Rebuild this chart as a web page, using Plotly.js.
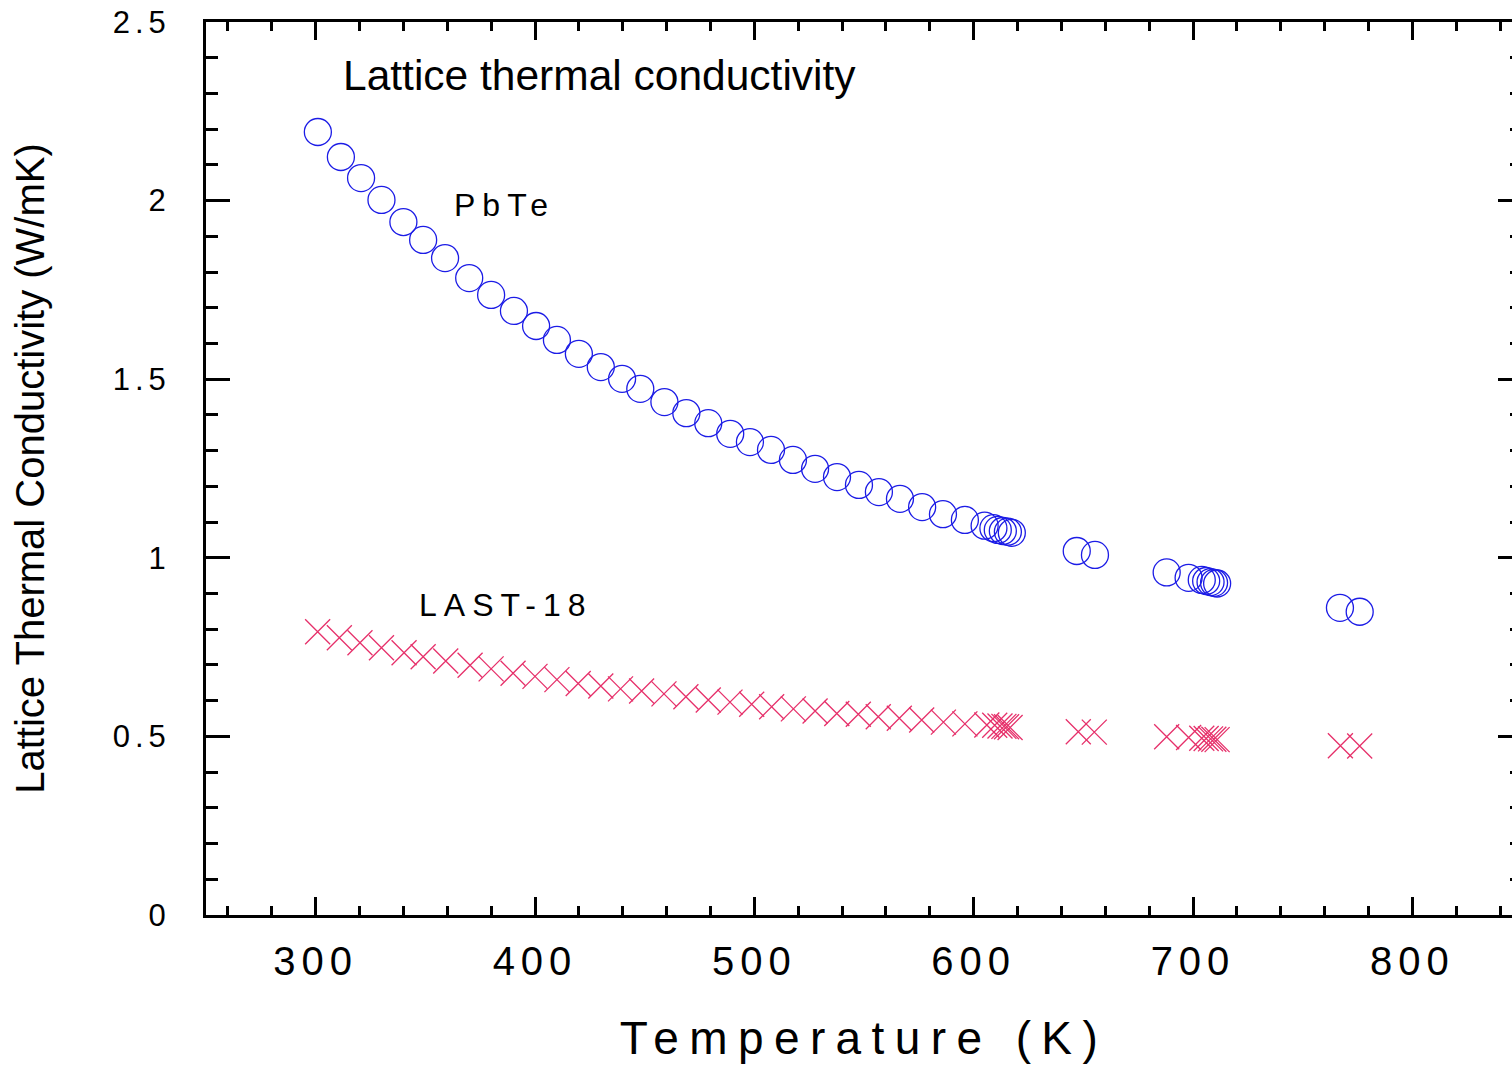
<!DOCTYPE html>
<html>
<head>
<meta charset="utf-8">
<script src="https://cdn.plot.ly/plotly-3.0.1.min.js"></script>
<style>
  html, body { margin: 0; padding: 0; overflow: hidden; background: #fff; }
  #chart { width: 1540px; height: 1070px; }
  .xtick text { letter-spacing: 6px; }
  .ytick text { letter-spacing: 5px; }
  text.xtitle { letter-spacing: 10.4px; }
  .annotation-text { letter-spacing: 7px; }
</style>
</head>
<body>
<div id="chart"></div>
<script>
// PbTe (open circles)
const tempPbTe = [301, 311.5, 320.7, 330, 340, 349, 359, 370, 380, 390.4, 400.5, 410, 420, 430, 439.7, 448, 459, 469, 479, 489, 498, 507.6, 517.6, 527.7, 537.7, 547.7, 556.8, 566.4, 576.5, 586, 596, 605, 609, 611, 613.3, 615.6, 617.4, 647, 655.3, 688, 698, 704, 706, 708, 709.6, 711, 767, 776];
const kPbTe = [2.192, 2.122, 2.063, 2.002, 1.940, 1.890, 1.839, 1.783, 1.736, 1.691, 1.649, 1.610, 1.571, 1.534, 1.501, 1.473, 1.436, 1.405, 1.377, 1.347, 1.324, 1.302, 1.274, 1.249, 1.226, 1.204, 1.184, 1.165, 1.142, 1.122, 1.106, 1.090, 1.083, 1.078, 1.075, 1.073, 1.070, 1.019, 1.008, 0.959, 0.944, 0.938, 0.935, 0.932, 0.930, 0.928, 0.860, 0.849];

// LAST-18 (crosses)
const tempLAST = [300.9, 310.8, 320.2, 330, 340.3, 349, 359.3, 370.4, 380, 390, 400, 410, 419.7, 430, 439, 448.6, 458.8, 468.8, 479, 488.9, 498.8, 507.9, 517.8, 527.7, 537.6, 547.4, 556.5, 566.1, 576.3, 586.2, 596, 606, 609.6, 612, 613.8, 615, 616.6, 647.7, 655, 688, 698, 704, 706, 708, 709.5, 711, 767.2, 776];
const kLAST = [0.793, 0.776, 0.762, 0.748, 0.734, 0.723, 0.711, 0.699, 0.689, 0.677, 0.668, 0.659, 0.648, 0.641, 0.633, 0.627, 0.619, 0.611, 0.602, 0.596, 0.590, 0.583, 0.577, 0.571, 0.564, 0.562, 0.555, 0.551, 0.546, 0.540, 0.535, 0.532, 0.531, 0.529, 0.528, 0.527, 0.525, 0.513, 0.512, 0.499, 0.497, 0.495, 0.494, 0.493, 0.492, 0.491, 0.474, 0.473];

const xTickVals = [300, 400, 500, 600, 700, 800];
const xTickText = ['300', '400', '500', '600', '700', '800'];
const yTickVals = [0, 0.5, 1, 1.5, 2, 2.5];
const yTickText = ['0', '0.5', '1', '1.5', '2', '2.5'];

const FONT = '"Liberation Sans", Arial, Helvetica, sans-serif';

const traces = [
  {
    x: tempPbTe, y: kPbTe, type: 'scatter', mode: 'markers', name: 'PbTe',
    marker: { symbol: 'circle-open', size: 27, color: '#1c1ce6', line: { width: 1.3, color: '#1c1ce6' } },
    hoverinfo: 'x+y'
  },
  {
    x: tempLAST, y: kLAST, type: 'scatter', mode: 'markers', name: 'LAST-18',
    marker: { symbol: 'x-thin-open', size: 25, color: '#e6306a', line: { width: 1.3, color: '#e6306a' } },
    hoverinfo: 'x+y'
  }
];

const layout = {
  width: 1540, height: 1070,
  margin: { l: 206, r: 18, t: 22, b: 155 },
  paper_bgcolor: '#fff', plot_bgcolor: '#fff',
  showlegend: false,
  font: { family: FONT, color: '#000' },
  title: {
    text: 'Lattice thermal conductivity',
    font: { family: FONT, size: 42.5, color: '#000' },
    x: 343 / 1540, xanchor: 'left', xref: 'container',
    y: 1 - 75 / 1070, yanchor: 'middle', yref: 'container'
  },
  xaxis: {
    range: [250, 850],
    tickmode: 'array', tickvals: xTickVals, ticktext: xTickText,
    ticks: 'inside', ticklen: 18, tickwidth: 3, tickcolor: '#000',
    minor: { dtick: 20, tick0: 0, ticks: 'inside', ticklen: 9, tickwidth: 2.5, tickcolor: '#000', showgrid: false },
    showline: true, linewidth: 3, linecolor: '#000', mirror: 'allticks',
    showgrid: false, zeroline: false,
    tickfont: { family: FONT, size: 40, color: '#000' },
    ticklabelstandoff: 9,
    title: { text: 'Temperature (K)', font: { family: FONT, size: 46, color: '#000' }, standoff: 40 },
    automargin: false, fixedrange: true
  },
  yaxis: {
    range: [0, 2.5],
    tickmode: 'array', tickvals: yTickVals, ticktext: yTickText,
    ticks: 'inside', ticklen: 24, tickwidth: 3, tickcolor: '#000',
    minor: { dtick: 0.1, tick0: 0, ticks: 'inside', ticklen: 12, tickwidth: 2.5, tickcolor: '#000', showgrid: false },
    showline: true, linewidth: 3, linecolor: '#000', mirror: 'allticks',
    showgrid: false, zeroline: false,
    tickfont: { family: FONT, size: 31, color: '#000' },
    ticklabelstandoff: 26,
    title: { text: 'Lattice Thermal Conductivity (W/mK)', font: { family: FONT, size: 40, color: '#000' }, standoff: 56 },
    automargin: false, fixedrange: true
  },
  annotations: [
    { text: 'PbTe', x: 386, y: 1.988, xref: 'x', yref: 'y', showarrow: false,
      font: { family: FONT, size: 32, color: '#000' }, xanchor: 'center', yanchor: 'middle' },
    { text: 'LAST-18', x: 387, y: 0.868, xref: 'x', yref: 'y', showarrow: false,
      font: { family: FONT, size: 32, color: '#000' }, xanchor: 'center', yanchor: 'middle' }
  ]
};

Plotly.newPlot('chart', traces, layout, { displayModeBar: false, staticPlot: false });
</script>
</body>
</html>
